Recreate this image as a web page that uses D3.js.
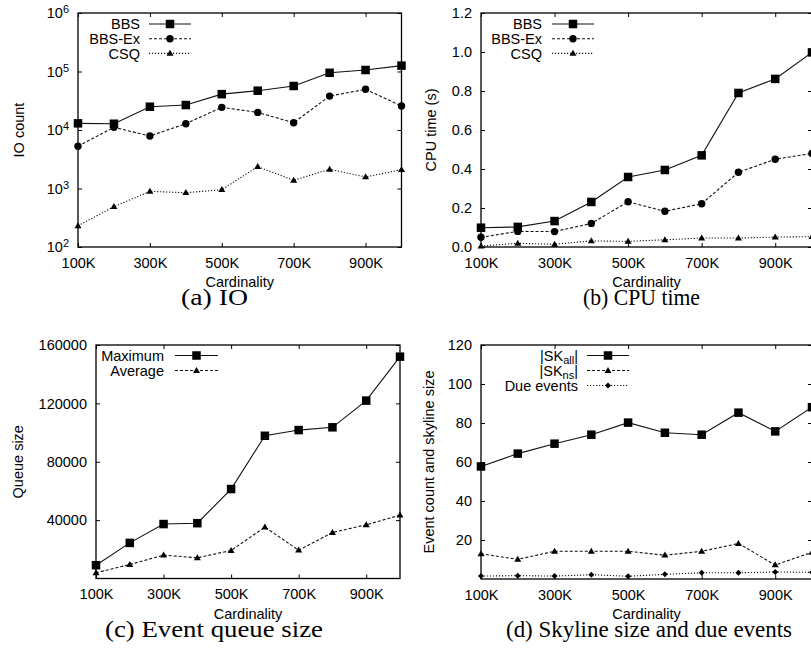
<!DOCTYPE html>
<html><head><meta charset="utf-8">
<script src="https://cdn.jsdelivr.net/npm/d3@7"></script>
<style>
body{margin:0;background:#fff;}
svg{display:block;background:#fff;}
text{font-family:"Liberation Sans",Arial,Helvetica,sans-serif;fill:#000;}
</style></head><body>
<svg id="chart" width="811" height="652"></svg>
<script>
// ---------- data ----------
const cardinality = [100,200,300,400,500,600,700,800,900,1000];
const xTickValues = [100,300,500,700,900];
const xTickLabels = ["100K","300K","500K","700K","900K"];
const xTitle = "Cardinality";

const ioBBS   = [13000,12800,25000,26700,41000,47000,56500,95000,106000,126000];
const ioBBSEx = [5300,11100,7900,12800,24400,20000,13300,38000,49600,25700];
const ioCSQ   = [231,489,895,847,955,2360,1380,2130,1575,2100];
const ioTicks = [1e2,1e3,1e4,1e5,1e6];

const cpuBBS   = [0.099,0.103,0.133,0.231,0.359,0.395,0.47,0.79,0.862,0.998];
const cpuBBSEx = [0.05,0.08,0.079,0.121,0.232,0.183,0.222,0.383,0.45,0.48];
const cpuCSQ   = [0.005,0.019,0.014,0.031,0.029,0.037,0.046,0.046,0.051,0.053];
const cpuTicks = [0,0.2,0.4,0.6,0.8,1.0,1.2];

const queueMax = [9100,24400,37300,37900,61300,97800,101700,103600,121900,152000];
const queueAvg = [3900,9600,16000,14200,19200,35200,19400,31500,36800,43400];
const queueTicks = [40000,80000,120000,160000];

const skAll = [57.7,64.3,69.4,74,80.2,75,74,85.3,75.7,88.1];
const skNs  = [12.9,10.1,14.2,14.2,14.2,12.2,14.2,18.2,7.2,13.7];
const dueEvents = [1.5,1.7,1.5,2.2,1.4,2.4,3.2,3.2,3.6,3.4];
const skTicks = [20,40,60,80,100,120];

const captions = ["(a)  IO","(b)  CPU time","(c)  Event queue size","(d)  Skyline size and due events"];
const yTitles = ["IO count","CPU time (s)","Queue size","Event count and skyline size"];

// ---------- drawing ----------
const svg = d3.select("#chart");
const FS = 14.5;
const DASH = {solid:null, dashed:"3,2", dotted:"1.2,1.8"};

function marker(g, type, cx, cy){
  if(type==="square"){
    g.append("rect").attr("x",cx-4.25).attr("y",cy-4.25).attr("width",8.5).attr("height",8.5).attr("fill","#000");
  } else if(type==="circle"){
    g.append("circle").attr("cx",cx).attr("cy",cy).attr("r",3.7).attr("fill","#000");
  } else if(type==="triangle"){
    g.append("path").attr("d",`M${cx},${cy-3.6}L${cx+3.5},${cy+2.4}L${cx-3.5},${cy+2.4}Z`).attr("fill","#000");
  } else if(type==="diamond"){
    g.append("path").attr("d",`M${cx},${cy-3}L${cx+3},${cy}L${cx},${cy+3}L${cx-3},${cy}Z`).attr("fill","#000");
  }
}

function styleAxis(sel){
  sel.select(".domain").remove();
  sel.attr("font-family",null).attr("font-size",null);
  sel.selectAll(".tick line").attr("stroke","#000").attr("stroke-width",1);
  sel.selectAll(".tick text").attr("font-size",FS).attr("fill","#000");
}

function panel(cfg){
  const g = svg.append("g");
  const x = d3.scaleLinear().domain([100,1000]).range([cfg.x0,cfg.x1]);
  const y = (cfg.log ? d3.scaleLog() : d3.scaleLinear()).domain(cfg.domain).range([cfg.yb,cfg.yt]);

  // axes (gnuplot style: inward ticks, mirrored)
  const bx = g.append("g").attr("transform",`translate(0,${cfg.yb})`)
    .call(d3.axisBottom(x).tickValues(xTickValues).tickFormat((d,i)=>xTickLabels[i]).tickSize(-4).tickSizeOuter(0).tickPadding(10.5));
  styleAxis(bx);
  const tx = g.append("g").attr("transform",`translate(0,${cfg.yt})`)
    .call(d3.axisTop(x).tickValues(xTickValues).tickFormat("").tickSize(-4).tickSizeOuter(0));
  styleAxis(tx);
  const ly = g.append("g").attr("transform",`translate(${cfg.x0},0)`)
    .call(d3.axisLeft(y).tickValues(cfg.ticks).tickFormat(cfg.log ? ()=>"" : cfg.fmt).tickSize(-4).tickSizeOuter(0).tickPadding(9));
  styleAxis(ly);
  if(cfg.log){
    ly.selectAll(".tick text").each(function(d){
      const t = d3.select(this);
      t.text("10");
      t.append("tspan").attr("dy",-5).attr("font-size",11).text(Math.round(Math.log10(d)));
    });
  }
  const ry = g.append("g").attr("transform",`translate(${cfg.x1},0)`)
    .call(d3.axisRight(y).tickValues(cfg.ticks).tickFormat("").tickSize(-4).tickSizeOuter(0));
  styleAxis(ry);

  // frame
  g.append("rect").attr("x",cfg.x0).attr("y",cfg.yt).attr("width",cfg.x1-cfg.x0).attr("height",cfg.yb-cfg.yt)
    .attr("fill","none").attr("stroke","#000").attr("stroke-width",1.3);

  // series
  const line = d3.line().x((d,i)=>x(cardinality[i])).y(d=>y(d));
  cfg.series.forEach(s=>{
    g.append("path").datum(s.values).attr("d",line).attr("fill","none")
      .attr("stroke","#111").attr("stroke-width",1.1).attr("stroke-dasharray",DASH[s.dash]);
  });
  cfg.series.forEach(s=>{
    s.values.forEach((v,i)=>marker(g,s.marker,x(cardinality[i]),y(v)));
  });

  // legend
  cfg.series.forEach((s,k)=>{
    const cy = cfg.leg.y + k*cfg.leg.step;
    const t = g.append("text").attr("x",cfg.leg.tx).attr("y",cy+5.2).attr("text-anchor","end").attr("font-size",FS);
    s.label.forEach(p=>{
      if(p.sub){
        t.append("tspan").attr("font-size",11).attr("dy",3).text(p.t);
      } else {
        t.append("tspan").attr("dy", p.back ? -3 : 0).text(p.t);
      }
    });
    g.append("line").attr("x1",cfg.leg.l0).attr("x2",cfg.leg.l1).attr("y1",cy).attr("y2",cy)
      .attr("stroke","#111").attr("stroke-width",1.1).attr("stroke-dasharray",DASH[s.dash]);
    marker(g,s.marker,(cfg.leg.l0+cfg.leg.l1)/2,cy);
  });

  // titles
  g.append("text").attr("x",(cfg.x0+cfg.x1)/2).attr("y",cfg.yb+40).attr("text-anchor","middle").attr("font-size",FS).text(xTitle);
  g.append("text").attr("transform",`translate(${cfg.ylx},${(cfg.yt+cfg.yb)/2}) rotate(-90)`)
    .attr("text-anchor","middle").attr("font-size",FS).text(cfg.ytitle);
  g.append("text").attr("x",cfg.cap.x).attr("y",cfg.yb+58).attr("font-size",22.5)
    .style("font-family",'"Liberation Serif","Times New Roman",serif')
    .attr("textLength",cfg.cap.w).attr("lengthAdjust","spacingAndGlyphs").text(cfg.caption);
}

panel({x0:78,x1:401.5,yt:13,yb:247,log:true,domain:[1e2,1e6],ticks:ioTicks,
  ytitle:yTitles[0],ylx:23.5,caption:captions[0],cap:{x:181,w:67},
  leg:{tx:140,l0:149,l1:191,y:24,step:14.7},
  series:[
    {label:[{t:"BBS"}],values:ioBBS,dash:"solid",marker:"square"},
    {label:[{t:"BBS-Ex"}],values:ioBBSEx,dash:"dashed",marker:"circle"},
    {label:[{t:"CSQ"}],values:ioCSQ,dash:"dotted",marker:"triangle"}]});

panel({x0:481,x1:812,yt:13,yb:247,log:false,domain:[0,1.2],ticks:cpuTicks,fmt:d3.format(".1f"),
  ytitle:yTitles[1],ylx:435.5,caption:captions[1],cap:{x:583,w:117},
  leg:{tx:542,l0:552,l1:594,y:24,step:14.7},
  series:[
    {label:[{t:"BBS"}],values:cpuBBS,dash:"solid",marker:"square"},
    {label:[{t:"BBS-Ex"}],values:cpuBBSEx,dash:"dashed",marker:"circle"},
    {label:[{t:"CSQ"}],values:cpuCSQ,dash:"dotted",marker:"triangle"}]});

panel({x0:96,x1:400,yt:345,yb:578.5,log:false,domain:[0,160000],ticks:queueTicks,fmt:d3.format("d"),
  ytitle:yTitles[2],ylx:22.5,caption:captions[2],cap:{x:105,w:218},
  leg:{tx:164,l0:175,l1:218,y:355.5,step:15},
  series:[
    {label:[{t:"Maximum"}],values:queueMax,dash:"solid",marker:"square"},
    {label:[{t:"Average"}],values:queueAvg,dash:"dashed",marker:"triangle"}]});

panel({x0:481,x1:812,yt:345,yb:579,log:false,domain:[0,120],ticks:skTicks,fmt:d3.format("d"),
  ytitle:yTitles[3],ylx:434,caption:captions[3],cap:{x:506,w:286},
  leg:{tx:578,l0:587,l1:629,y:355.5,step:15},
  series:[
    {label:[{t:"|SK"},{t:"all",sub:true},{t:"|",back:true}],values:skAll,dash:"solid",marker:"square"},
    {label:[{t:"|SK"},{t:"ns",sub:true},{t:"|",back:true}],values:skNs,dash:"dashed",marker:"triangle"},
    {label:[{t:"Due events"}],values:dueEvents,dash:"dotted",marker:"diamond"}]});
</script>
</body></html>
